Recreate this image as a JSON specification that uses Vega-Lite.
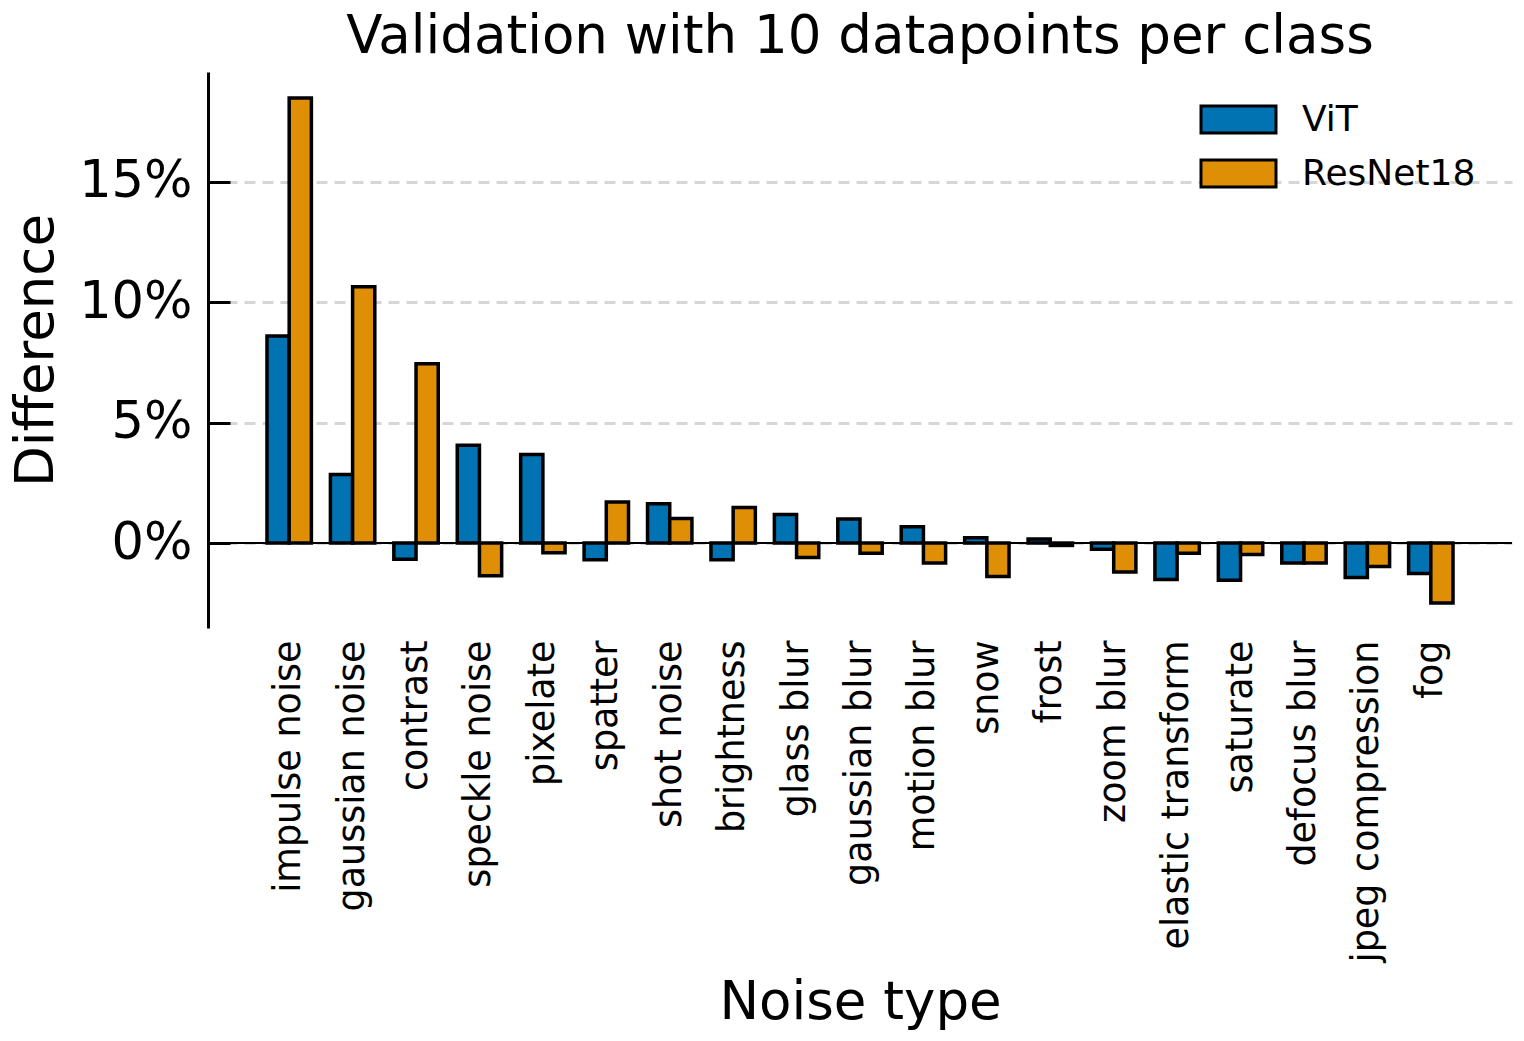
{
  "$schema": "https://vega.github.io/schema/vega-lite/v6.json",
  "autosize": {"type": "none"},
  "padding": {"left": 208, "top": 72, "right": 12, "bottom": 413},
  "width": 1304,
  "height": 556,
  "background": "white",
  "title": {
    "text": "Validation with 10 datapoints per class",
    "fontSize": 53,
    "font": "DejaVu Sans",
    "fontWeight": "normal",
    "color": "black",
    "anchor": "middle",
    "frame": "group",
    "baseline": "alphabetic",
    "offset": 19,
    "dy": 53
  },
  "config": {
    "font": "DejaVu Sans",
    "view": {"stroke": null},
    "axis": {"labelColor": "black", "titleColor": "black", "titleFontWeight": "normal", "labelFont": "DejaVu Sans", "titleFont": "DejaVu Sans"}
  },
  "data": {
    "values": [
      {"noise": "impulse noise", "model": "ViT", "value": 8.6},
      {"noise": "impulse noise", "model": "ResNet18", "value": 18.49},
      {"noise": "gaussian noise", "model": "ViT", "value": 2.85},
      {"noise": "gaussian noise", "model": "ResNet18", "value": 10.65},
      {"noise": "contrast", "model": "ViT", "value": -0.67},
      {"noise": "contrast", "model": "ResNet18", "value": 7.45},
      {"noise": "speckle noise", "model": "ViT", "value": 4.06},
      {"noise": "speckle noise", "model": "ResNet18", "value": -1.36},
      {"noise": "pixelate", "model": "ViT", "value": 3.68},
      {"noise": "pixelate", "model": "ResNet18", "value": -0.4},
      {"noise": "spatter", "model": "ViT", "value": -0.69},
      {"noise": "spatter", "model": "ResNet18", "value": 1.71},
      {"noise": "shot noise", "model": "ViT", "value": 1.63},
      {"noise": "shot noise", "model": "ResNet18", "value": 1.02},
      {"noise": "brightness", "model": "ViT", "value": -0.69},
      {"noise": "brightness", "model": "ResNet18", "value": 1.48},
      {"noise": "glass blur", "model": "ViT", "value": 1.19},
      {"noise": "glass blur", "model": "ResNet18", "value": -0.6},
      {"noise": "gaussian blur", "model": "ViT", "value": 1.0},
      {"noise": "gaussian blur", "model": "ResNet18", "value": -0.42},
      {"noise": "motion blur", "model": "ViT", "value": 0.68},
      {"noise": "motion blur", "model": "ResNet18", "value": -0.83},
      {"noise": "snow", "model": "ViT", "value": 0.22},
      {"noise": "snow", "model": "ResNet18", "value": -1.39},
      {"noise": "frost", "model": "ViT", "value": 0.17},
      {"noise": "frost", "model": "ResNet18", "value": -0.1},
      {"noise": "zoom blur", "model": "ViT", "value": -0.26},
      {"noise": "zoom blur", "model": "ResNet18", "value": -1.2},
      {"noise": "elastic transform", "model": "ViT", "value": -1.52},
      {"noise": "elastic transform", "model": "ResNet18", "value": -0.42},
      {"noise": "saturate", "model": "ViT", "value": -1.55},
      {"noise": "saturate", "model": "ResNet18", "value": -0.48},
      {"noise": "defocus blur", "model": "ViT", "value": -0.83},
      {"noise": "defocus blur", "model": "ResNet18", "value": -0.83},
      {"noise": "jpeg compression", "model": "ViT", "value": -1.43},
      {"noise": "jpeg compression", "model": "ResNet18", "value": -0.97},
      {"noise": "fog", "model": "ViT", "value": -1.27},
      {"noise": "fog", "model": "ResNet18", "value": -2.49}
    ]
  },
  "layer": [
    {
      "mark": {"type": "bar", "stroke": "black", "strokeWidth": 3.5, "opacity": 1},
      "encoding": {
        "x": {
          "field": "noise",
          "type": "nominal",
          "sort": null,
          "scale": {"paddingInner": 0.3, "paddingOuter": 0.93},
          "axis": {
            "title": "Noise type",
            "titleFontSize": 53,
            "titleY": 390,
            "titleBaseline": "alphabetic",
            "labelAngle": -90,
            "labelFontSize": 36.5,
            "labelLimit": 0,
            "labelPadding": 12,
            "ticks": false,
            "domain": false,
            "grid": false
          }
        },
        "xOffset": {
          "field": "model",
          "type": "nominal",
          "sort": ["ViT", "ResNet18"],
          "scale": {"paddingInner": 0, "paddingOuter": 0}
        },
        "y": {
          "field": "value",
          "type": "quantitative",
          "scale": {"domain": [-3.53, 19.57], "nice": false, "zero": false},
          "axis": {
            "title": "Difference",
            "titleFontSize": 53,
            "titleX": -156,
            "titleY": 278,
            "titleAngle": -90,
            "titleAlign": "center",
            "titleBaseline": "alphabetic",
            "values": [0, 5, 10, 15],
            "labelExpr": "datum.value + '%'",
            "labelFontSize": 51,
            "labelPadding": 38,
            "tickSize": -22,
            "tickWidth": 3,
            "tickColor": "black",
            "domainColor": "black",
            "domainWidth": 3,
            "grid": true,
            "gridColor": "#d6d6d6",
            "gridWidth": 3,
            "gridDash": [11, 7]
          }
        },
        "color": {
          "field": "model",
          "type": "nominal",
          "sort": ["ViT", "ResNet18"],
          "scale": {"domain": ["ViT", "ResNet18"], "range": ["#0173B2", "#DE8F05"]},
          "legend": {
            "title": null,
            "orient": "none",
            "legendX": 1010,
            "legendY": 27,
            "symbolType": "M-2,-0.72H2V0.72H-2Z",
            "symbolSize": 1406,
            "symbolStrokeColor": "black",
            "symbolStrokeWidth": 3,
            "symbolOpacity": 1,
            "labelFontSize": 36,
            "labelLimit": 0,
            "labelColor": "black",
            "labelOffset": 43,
            "rowPadding": 14,
            "padding": 0
          }
        }
      }
    },
    {
      "mark": {"type": "rule", "color": "black", "strokeWidth": 2},
      "encoding": {"y": {"datum": 0}}
    }
  ]
}
